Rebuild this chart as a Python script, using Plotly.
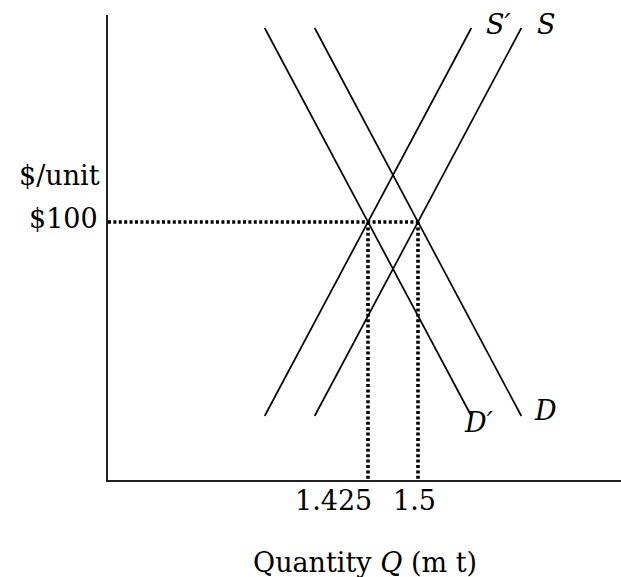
import plotly.graph_objects as go

# ---- data ----
price_ends = [50, 150]            # price at bottom / top of each curve
q_supply = [1.345, 1.655]         # S
q_supply_new = [1.27, 1.58]       # S'
q_demand = [1.655, 1.345]         # D
q_demand_new = [1.58, 1.27]       # D'
eq_quantities = [1.425, 1.5]
eq_price = 100
tick_labels = ["1.425", "1.5"]
price_label = "$100"

FONT = "DejaVu Serif"
FS = 27

fig = go.Figure()

line_style = dict(color="black", width=1.7)
for qs in (q_supply, q_supply_new, q_demand, q_demand_new):
    fig.add_trace(go.Scatter(x=qs, y=price_ends, mode="lines", line=line_style,
                             hoverinfo="skip", showlegend=False))

dot_style = dict(color="black", width=3.6, dash="3px,2.4px")
x_min = 1.035
y_min = 33.5
# horizontal dotted line at equilibrium price
fig.add_trace(go.Scatter(x=[x_min, max(eq_quantities)], y=[eq_price, eq_price], mode="lines",
                         line=dot_style, hoverinfo="skip", showlegend=False))
for q in eq_quantities:
    fig.add_trace(go.Scatter(x=[q, q], y=[eq_price, y_min], mode="lines",
                             line=dot_style, hoverinfo="skip", showlegend=False))

ann = []
tf = dict(family=FONT, size=FS, color="black")
# curve labels
ann.append(dict(x=q_supply_new[1], y=price_ends[1], text="<i>S′</i>", showarrow=False,
                xanchor="center", yanchor="middle", xshift=27, yshift=4, font=tf))
ann.append(dict(x=q_supply[1], y=price_ends[1], text="<i>S</i>", showarrow=False,
                xanchor="center", yanchor="middle", xshift=25, yshift=4, font=tf))
ann.append(dict(x=q_demand[0], y=price_ends[0], text="<i>D</i>", showarrow=False,
                xanchor="center", yanchor="middle", xshift=24, yshift=5, font=tf))
ann.append(dict(x=q_demand_new[0], y=price_ends[0], text="<i>D′</i>", showarrow=False,
                xanchor="center", yanchor="middle", xshift=7, yshift=-7, font=tf))
# tick labels
ann.append(dict(x=eq_quantities[0], y=0, yref="paper", text=tick_labels[0], showarrow=False,
                xanchor="right", yanchor="middle", xshift=6, yshift=-20, font=tf))
ann.append(dict(x=eq_quantities[1], y=0, yref="paper", text=tick_labels[1], showarrow=False,
                xanchor="center", yanchor="middle", xshift=-4, yshift=-20, font=tf))
ann.append(dict(x=0, xref="paper", y=eq_price, text=price_label, showarrow=False,
                xanchor="right", yanchor="middle", xshift=-8, yshift=3, font=tf))
ann.append(dict(x=0, xref="paper", y=eq_price, text="$/unit", showarrow=False,
                xanchor="right", yanchor="middle", xshift=-6, yshift=46, font=tf))
ann.append(dict(x=0.5, xref="paper", y=0, yref="paper", text="Quantity <i>Q</i> (m t)",
                showarrow=False, xanchor="center", yanchor="middle", yshift=-82, font=tf))

fig.update_layout(
    width=621, height=577,
    margin=dict(l=108, r=0, t=15, b=97),
    paper_bgcolor="white", plot_bgcolor="white",
    annotations=ann,
    xaxis=dict(range=[x_min, 1.8045], showgrid=False, zeroline=False, showticklabels=False,
               ticks="", showline=True, linecolor="#222", linewidth=2),
    yaxis=dict(range=[y_min, 153.35], showgrid=False, zeroline=False, showticklabels=False,
               ticks="", showline=True, linecolor="#222", linewidth=2),
)

fig.write_html(
    "out.html",
    config={"responsive": False, "displayModeBar": False},
    post_script="document.body.style.margin='0';document.body.style.overflow='hidden';",
)
